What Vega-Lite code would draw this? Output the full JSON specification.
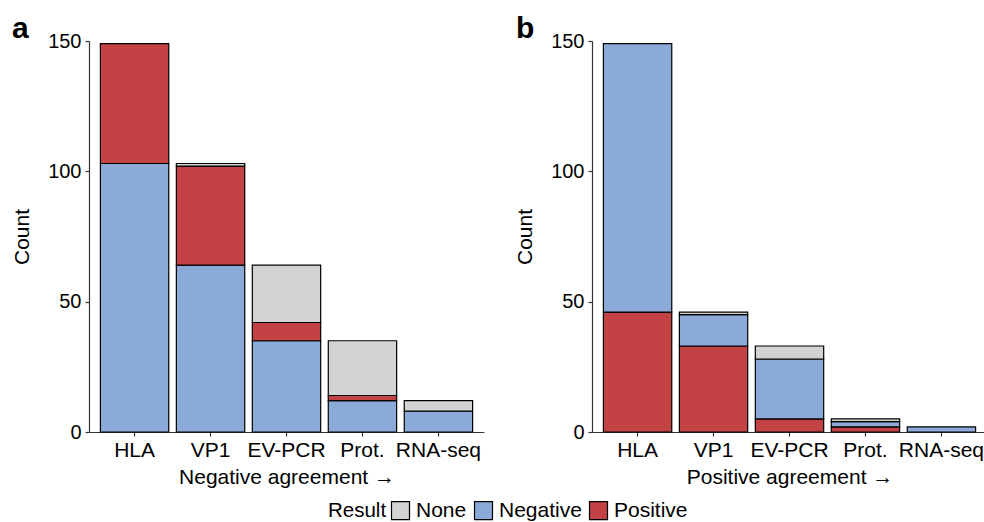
{
  "$schema": "https://vega.github.io/schema/vega-lite/v6.json",
  "background": "white",
  "padding": {"left": 11, "top": 14, "right": 0, "bottom": 0},
  "config": {
    "font": "Liberation Sans",
    "view": {"stroke": null},
    "concat": {"spacing": 30},
    "axis": {
      "labelFontSize": 20, "titleFontSize": 21, "titleFontWeight": "normal",
      "labelColor": "black", "titleColor": "black",
      "domainColor": "#333333", "tickColor": "#333333", "domainWidth": 1.2, "tickWidth": 1.2,
      "tickSize": 4, "labelPadding": 3, "grid": false
    },
    "axisX": {"titlePadding": 6, "labelAngle": 0, "labelFontSize": 21},
    "axisY": {"titlePadding": 15, "labelPadding": 4}
  },
  "datasets": {
    "d": [
      {"panel": "a", "method": "HLA", "result": "Negative", "count": 103, "ord": 1},
      {"panel": "a", "method": "HLA", "result": "Positive", "count": 46, "ord": 2},
      {"panel": "a", "method": "VP1", "result": "Negative", "count": 64, "ord": 1},
      {"panel": "a", "method": "VP1", "result": "Positive", "count": 38, "ord": 2},
      {"panel": "a", "method": "VP1", "result": "None", "count": 1, "ord": 3},
      {"panel": "a", "method": "EV-PCR", "result": "Negative", "count": 35, "ord": 1},
      {"panel": "a", "method": "EV-PCR", "result": "Positive", "count": 7, "ord": 2},
      {"panel": "a", "method": "EV-PCR", "result": "None", "count": 22, "ord": 3},
      {"panel": "a", "method": "Prot.", "result": "Negative", "count": 12, "ord": 1},
      {"panel": "a", "method": "Prot.", "result": "Positive", "count": 2, "ord": 2},
      {"panel": "a", "method": "Prot.", "result": "None", "count": 21, "ord": 3},
      {"panel": "a", "method": "RNA-seq", "result": "Negative", "count": 8, "ord": 1},
      {"panel": "a", "method": "RNA-seq", "result": "None", "count": 4, "ord": 3},
      {"panel": "b", "method": "HLA", "result": "Positive", "count": 46, "ord": 1},
      {"panel": "b", "method": "HLA", "result": "Negative", "count": 103, "ord": 2},
      {"panel": "b", "method": "VP1", "result": "Positive", "count": 33, "ord": 1},
      {"panel": "b", "method": "VP1", "result": "Negative", "count": 12, "ord": 2},
      {"panel": "b", "method": "VP1", "result": "None", "count": 1, "ord": 3},
      {"panel": "b", "method": "EV-PCR", "result": "Positive", "count": 5, "ord": 1},
      {"panel": "b", "method": "EV-PCR", "result": "Negative", "count": 23, "ord": 2},
      {"panel": "b", "method": "EV-PCR", "result": "None", "count": 5, "ord": 3},
      {"panel": "b", "method": "Prot.", "result": "Positive", "count": 2, "ord": 1},
      {"panel": "b", "method": "Prot.", "result": "Negative", "count": 2, "ord": 2},
      {"panel": "b", "method": "Prot.", "result": "None", "count": 1, "ord": 3},
      {"panel": "b", "method": "RNA-seq", "result": "Negative", "count": 2, "ord": 2}
    ]
  },
  "hconcat": [
    {
      "width": 395, "height": 391,
      "title": {"text": "a", "anchor": "start", "frame": "group", "dx": -77, "fontSize": 30, "fontWeight": "bold", "offset": -13, "color": "black"},
      "data": {"name": "d"},
      "transform": [{"filter": "datum.panel == 'a'"}],
      "mark": {"type": "bar", "stroke": "black", "strokeWidth": 1.2},
      "encoding": {
        "x": {"field": "method", "type": "nominal", "sort": ["HLA", "VP1", "EV-PCR", "Prot.", "RNA-seq"],
              "scale": {"paddingInner": 0.1, "paddingOuter": 0.15},
              "axis": {"title": "Negative agreement →"}},
        "y": {"field": "count", "type": "quantitative", "stack": "zero",
              "scale": {"domain": [0, 150], "nice": false},
              "axis": {"title": "Count", "values": [0, 50, 100, 150]}},
        "color": {"field": "result", "type": "nominal",
                  "scale": {"domain": ["None", "Negative", "Positive"], "range": ["#d3d3d3", "#8caad8", "#c34244"]},
                  "legend": {"title": "Result", "orient": "none", "legendX": 239, "legendY": 459, "direction": "horizontal",
                             "titleOrient": "left", "titleFontSize": 20.5, "titleFontWeight": "normal", "titleColor": "black",
                             "titlePadding": 3, "labelFontSize": 21, "labelColor": "black", "symbolType": "square",
                             "symbolSize": 324, "symbolStrokeColor": "black", "symbolStrokeWidth": 1.2, "symbolOpacity": 1,
                             "labelOffset": 5, "columnPadding": 5}},
        "order": {"field": "ord", "type": "quantitative"}
      }
    },
    {
      "width": 395, "height": 391,
      "title": {"text": "b", "anchor": "start", "frame": "group", "dx": -76, "fontSize": 30, "fontWeight": "bold", "offset": -13, "color": "black"},
      "data": {"name": "d"},
      "transform": [{"filter": "datum.panel == 'b'"}],
      "mark": {"type": "bar", "stroke": "black", "strokeWidth": 1.2},
      "encoding": {
        "x": {"field": "method", "type": "nominal", "sort": ["HLA", "VP1", "EV-PCR", "Prot.", "RNA-seq"],
              "scale": {"paddingInner": 0.1, "paddingOuter": 0.15},
              "axis": {"title": "Positive agreement →"}},
        "y": {"field": "count", "type": "quantitative", "stack": "zero",
              "scale": {"domain": [0, 150], "nice": false},
              "axis": {"title": "Count", "values": [0, 50, 100, 150]}},
        "color": {"field": "result", "type": "nominal",
                  "scale": {"domain": ["None", "Negative", "Positive"], "range": ["#d3d3d3", "#8caad8", "#c34244"]}},
        "order": {"field": "ord", "type": "quantitative"}
      }
    }
  ],
  "resolve": {"scale": {"color": "shared"}}
}
